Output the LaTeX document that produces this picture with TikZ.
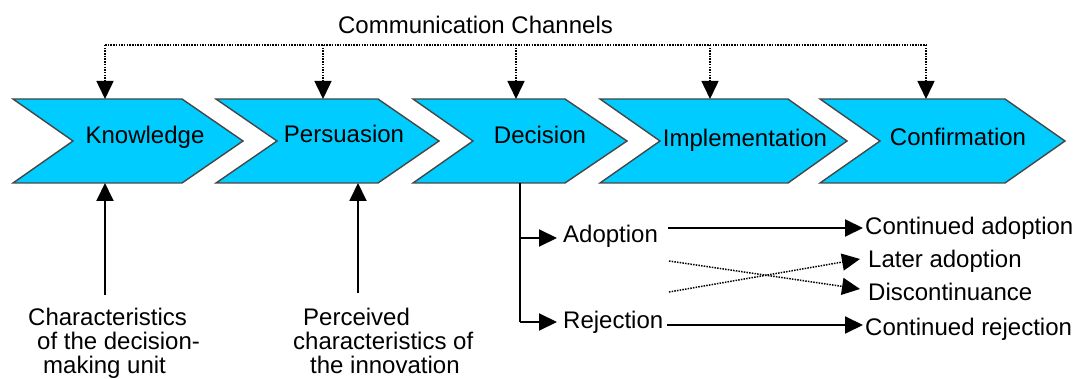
\documentclass[tikz,border=0pt]{standalone}
\usepackage{fontspec}
\setmainfont{Liberation Sans}
\usetikzlibrary{arrows.meta}
\definecolor{chevfill}{RGB}{0,204,255}
\definecolor{chevline}{RGB}{70,70,70}
\tikzset{
  chev/.style={fill=chevfill, draw=chevline, line width=1.4pt, line join=miter},
  lbl/.style={inner sep=0pt, font=\fontsize{24}{24}\selectfont, text=black},
  solidline/.style={line width=1.9pt, draw=black},
  dotline/.style={line width=1.5pt, draw=black, dash pattern=on 1.5pt off 1.2pt},
  tip/.style={-{Triangle[length=18pt,width=17pt]}},
}
\begin{document}
\begin{tikzpicture}[x=1pt,y=-1pt]
\useasboundingbox (0,0) rectangle (1078,379);
% chevrons
\draw[chev] (13,99) -- (182,99) -- (243,141) -- (182,183) -- (13,183) -- (73,141) -- cycle;
\draw[chev] (216,99) -- (378,99) -- (439,141) -- (378,183) -- (216,183) -- (277,141) -- cycle;
\draw[chev] (413,99) -- (565,99) -- (627,141) -- (565,183) -- (413,183) -- (473,141) -- cycle;
\draw[chev] (600,99) -- (788,99) -- (847,141) -- (788,183) -- (600,183) -- (660,141) -- cycle;
\draw[chev] (820,99) -- (1005,99) -- (1065,141) -- (1005,183) -- (820,183) -- (880,141) -- cycle;
% chevron labels
\node[lbl, anchor=base] (kn) at (145,144) {Knowledge};
\node[lbl, anchor=base] (pe) at (344,143) {Persuasion};
\node[lbl, anchor=base] (de) at (540,144) {Decision};
\node[lbl, anchor=base] (im) at (745,147) {Implementation};
\node[lbl, anchor=base] (co) at (958,146) {Confirmation};
% communication channels
\node[lbl, anchor=base] (cc) at (475.5,34) {Communication Channels};
\coordinate (d1) at (105,45);
\coordinate (d2) at (323,45);
\coordinate (d3) at (516,45);
\coordinate (d4) at (710,45);
\coordinate (d5) at (926,45);
\coordinate (t1) at (105,99);
\coordinate (t2) at (323,99);
\coordinate (t3) at (516,99);
\coordinate (t4) at (710,99);
\coordinate (t5) at (926,99);
\draw[dotline] (d1) -- (d5);
\foreach \i in {1,...,5} { \draw[dotline, tip] (d\i) -- (t\i); }
% bottom inputs
\node[lbl, anchor=north west, align=left] (cdu) at (28,307.8)
  {Characteristics\\\hspace*{9pt}of the decision-\\\hspace*{15pt}making unit};
\node[lbl, anchor=north west, align=left] (pci) at (293,307.8)
  {\hspace*{10pt}Perceived\\characteristics of\\\hspace*{17pt}the innovation};
\coordinate (u1s) at (105,295);
\coordinate (u1e) at (105,183);
\coordinate (u2s) at (358,293);
\coordinate (u2e) at (358,183);
\draw[solidline, tip] (u1s) -- (u1e);
\draw[solidline, tip] (u2s) -- (u2e);
% decision branches
\coordinate (db) at (520,183);
\coordinate (br1) at (520,238);
\coordinate (br2) at (520,322);
\coordinate (bt1) at (557,238);
\coordinate (bt2) at (557,322);
\draw[solidline] (db) -- (br2);
\draw[solidline, tip] (br1) -- (bt1);
\draw[solidline, tip] (br2) -- (bt2);
\node[lbl, anchor=base west] (ad) at (563,243) {Adoption};
\node[lbl, anchor=base west] (rj) at (563,328) {Rejection};
\node[lbl, anchor=base west] (ca) at (865,235) {Continued adoption};
\node[lbl, anchor=base west] (la) at (868,268) {Later adoption};
\node[lbl, anchor=base west] (dc) at (868,300) {Discontinuance};
\node[lbl, anchor=base west] (cr) at (865,335) {Continued rejection};
\coordinate (a1) at (668,228);
\coordinate (a2) at (863,228);
\coordinate (r1) at (667,325);
\coordinate (r2) at (863,325);
\coordinate (x1) at (669,261);
\coordinate (x2) at (860,289);
\coordinate (y1) at (669,292);
\coordinate (y2) at (860,259);
\draw[solidline, tip] (a1) -- (a2);
\draw[solidline, tip] (r1) -- (r2);
\draw[dotline, tip] (x1) -- (x2);
\draw[dotline, tip] (y1) -- (y2);
\end{tikzpicture}
\end{document}
